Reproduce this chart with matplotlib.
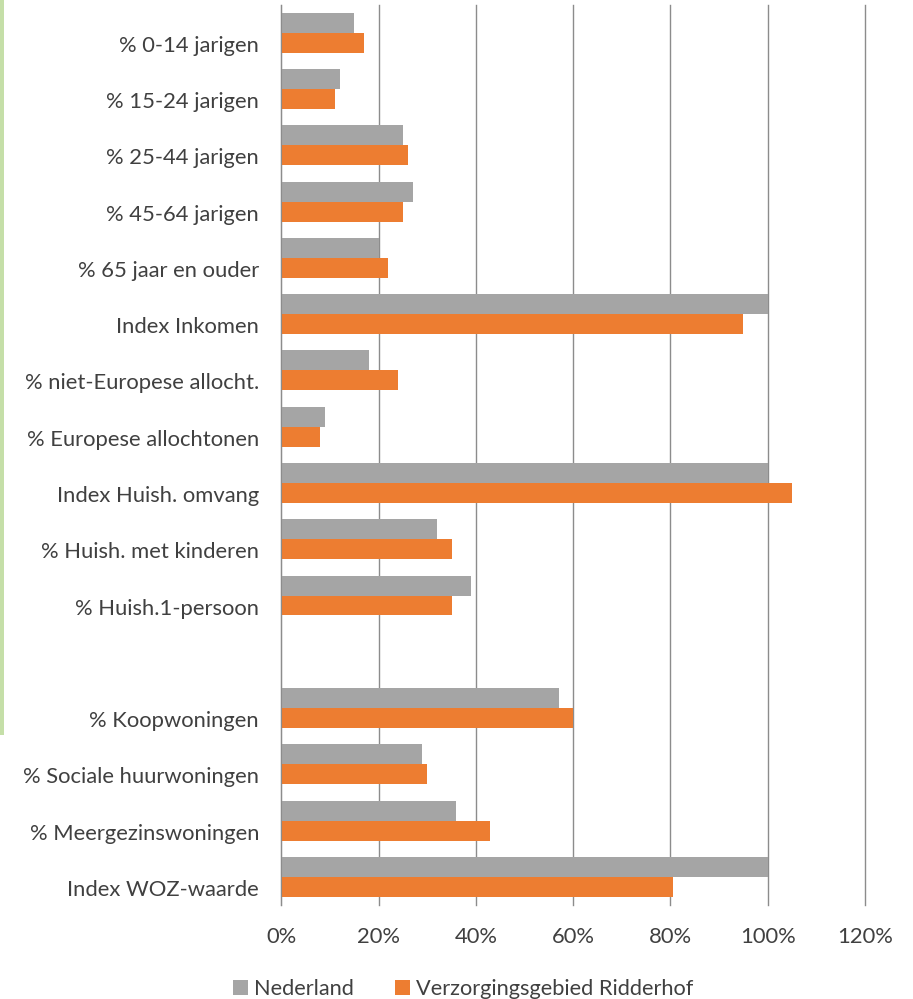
import numpy as np
import matplotlib
matplotlib.use("Agg")
import matplotlib.pyplot as plt
from matplotlib.patches import Rectangle
from matplotlib.transforms import ScaledTranslation

plt.rcParams['font.family'] = 'Lato'

categories = ['% 0-14 jarigen', '% 15-24 jarigen', '% 25-44 jarigen', '% 45-64 jarigen',
              '% 65 jaar en ouder', 'Index Inkomen', '% niet-Europese allocht.',
              '% Europese allochtonen', 'Index Huish. omvang', '% Huish. met kinderen',
              '% Huish.1-persoon', '', '% Koopwoningen', '% Sociale huurwoningen',
              '% Meergezinswoningen', 'Index WOZ-waarde']
nederland = [15, 12, 25, 27, 20, 100, 18, 9, 100, 32, 39, 0, 57, 29, 36, 100]
ridderhof = [17, 11, 26, 25, 22, 95, 24, 8, 105, 35, 35, 0, 60, 30, 43, 80.5]
xticks = [0, 20, 40, 60, 80, 100, 120]

W, H = 913, 999
fig = plt.figure(figsize=(W / 100, H / 100), dpi=100)
# plot area in pixels, x runs to the 120% gridline
left, right, top, bottom = 281.3, 865, 4.7, 905
ax = fig.add_axes([left / W, 1 - bottom / H, (right - left) / W, (bottom - top) / H])

# strip of the background map at the left edge
fig.add_artist(Rectangle((0, 1 - 735 / H), 4 / W, 735 / H, transform=fig.transFigure,
                         color='#c5dfa8', lw=0, zorder=0))

y = np.arange(len(categories))
h = 0.355
ax.barh(y - h / 2, nederland, height=h, color='#a5a5a5', label='Nederland', zorder=3)
ax.barh(y + h / 2, ridderhof, height=h, color='#ed7d31', label='Verzorgingsgebied Ridderhof', zorder=3)

ax.set_xlim(0, 120)
ax.set_ylim(len(categories) - 0.5, -0.5)
ax.set_yticks(y)
ax.set_yticklabels(categories)
ax.set_xticks(xticks)
ax.set_xticklabels([f'{v}%' for v in xticks])
ax.tick_params(axis='y', length=0, pad=16, labelsize=15.8, labelcolor='#404040')
ax.tick_params(axis='x', length=0, pad=16, labelsize=15.8, labelcolor='#404040')
# category labels sit level with the orange bars, not the slot centre
shift = ScaledTranslation(0, -11 / 100, fig.dpi_scale_trans)
for lab in ax.get_yticklabels():
    lab.set_transform(lab.get_transform() + shift)
ax.grid(axis='x', color='#8c8c8c', lw=1, zorder=1, clip_on=False)
for s in ['top', 'right', 'bottom']:
    ax.spines[s].set_visible(False)
ax.spines['left'].set_color('#8c8c8c')
ax.spines['left'].set_zorder(4)

fig.legend(loc='center', bbox_to_anchor=(463 / W, 1 - 989 / H), ncol=2, frameon=False,
           fontsize=15.7, labelcolor='#404040', handlelength=0.7, handleheight=0.7,
           handletextpad=0.25, columnspacing=1.9, borderpad=0)

fig.savefig('out.png', dpi=100)
